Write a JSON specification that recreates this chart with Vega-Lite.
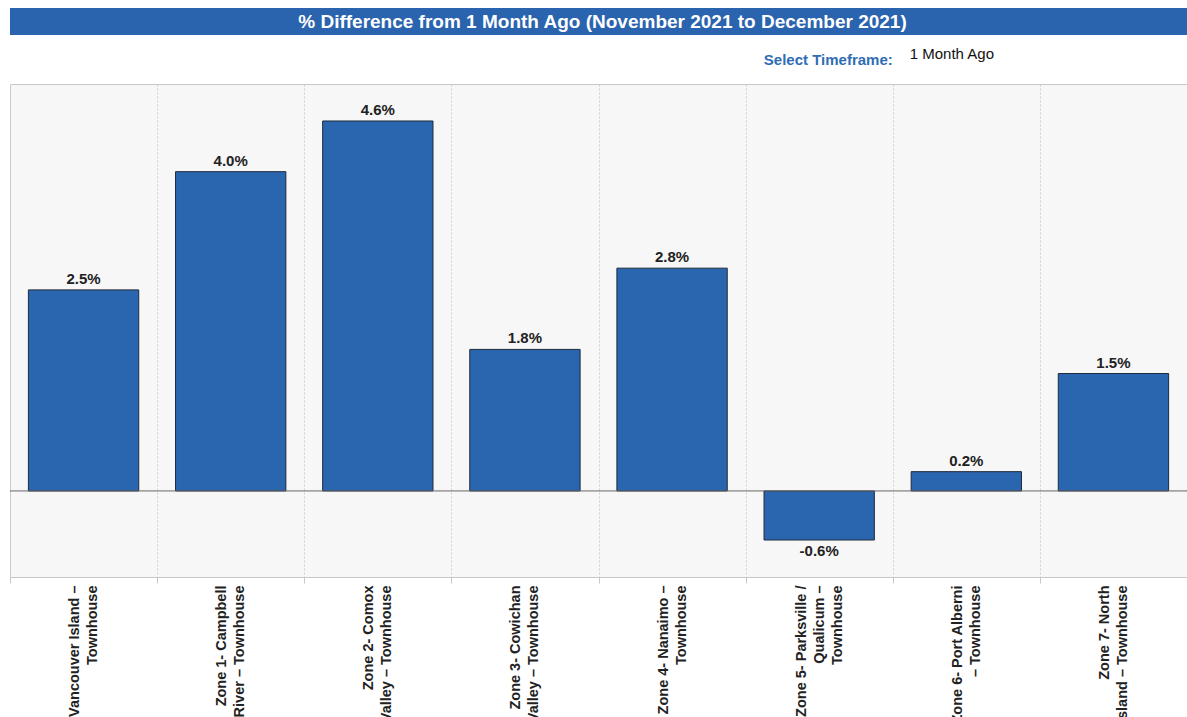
{
  "$schema": "https://vega.github.io/schema/vega-lite/v6.json",
  "width": 1177,
  "height": 493,
  "autosize": {"type": "none"},
  "padding": {"left": 10, "top": 84, "right": 0, "bottom": 140},
  "background": "white",
  "config": {
    "view": {"fill": "#f7f7f7", "stroke": "#c8c8c8"},
    "font": "Liberation Sans",
    "locale": {
      "number": {"decimal": ".", "thousands": ",", "grouping": [3], "currency": ["$", ""], "minus": "-"}
    }
  },
  "data": {
    "values": [
      {"zone": "Vancouver Island –\nTownhouse", "pct": 0.025},
      {"zone": "Zone 1- Campbell\nRiver – Townhouse", "pct": 0.0397},
      {"zone": "Zone 2- Comox\nValley – Townhouse", "pct": 0.046},
      {"zone": "Zone 3- Cowichan\nValley – Townhouse", "pct": 0.0176},
      {"zone": "Zone 4- Nanaimo –\nTownhouse", "pct": 0.0277},
      {"zone": "Zone 5- Parksville /\nQualicum –\nTownhouse", "pct": -0.0061},
      {"zone": "Zone 6- Port Alberni\n– Townhouse", "pct": 0.0024},
      {"zone": "Zone 7- North\nIsland – Townhouse", "pct": 0.0146}
    ]
  },
  "layer": [
    {
      "mark": {"type": "bar", "color": "#2a65b0", "stroke": "#1f2b3a", "strokeWidth": 1, "width": {"band": 0.75}},
      "encoding": {
        "x": {
          "field": "zone", "type": "nominal", "sort": null,
          "scale": {"paddingInner": 0, "paddingOuter": 0},
          "axis": {
            "title": null, "labelAngle": -90, "labelAlign": "right", "labelBaseline": "middle",
            "labelFont": "Liberation Sans", "labelFontWeight": "bold", "labelFontSize": 14.5,
            "labelColor": "#222222", "labelLineHeight": 18, "labelPadding": 2,
            "labelExpr": "split(datum.label, '\\n')", "labelLimit": 0, "labelOverlap": false,
            "labelOffset": {"expr": "-(length(split(datum.value, '\\n')) - 1) * 9"},
            "tickBand": "extent", "tickSize": 6, "tickColor": "#c8c8c8", "domainColor": "#c8c8c8",
            "grid": true, "gridColor": "#cfcfcf", "gridDash": [2, 2]
          }
        },
        "y": {
          "field": "pct", "type": "quantitative",
          "scale": {"domain": [-0.0107, 0.0506], "nice": false, "zero": false},
          "axis": null
        },
        "y2": {"datum": 0}
      }
    },
    {
      "transform": [{"filter": "datum.pct >= 0"}],
      "mark": {"type": "text", "baseline": "bottom", "dy": -3, "fontSize": 15, "fontWeight": "bold", "color": "#222222"},
      "encoding": {
        "x": {"field": "zone", "type": "nominal", "sort": null},
        "y": {"field": "pct", "type": "quantitative"},
        "text": {"field": "pct", "type": "quantitative", "format": ".1%"}
      }
    },
    {
      "transform": [{"filter": "datum.pct < 0"}],
      "mark": {"type": "text", "baseline": "top", "dy": 4, "fontSize": 15, "fontWeight": "bold", "color": "#222222"},
      "encoding": {
        "x": {"field": "zone", "type": "nominal", "sort": null},
        "y": {"field": "pct", "type": "quantitative"},
        "text": {"field": "pct", "type": "quantitative", "format": ".1%"}
      }
    },
    {
      "data": {"values": [{}]},
      "mark": {"type": "rule", "color": "#666666", "strokeWidth": 1},
      "encoding": {"y": {"datum": 0, "type": "quantitative"}}
    },
    {
      "data": {"values": [{}]},
      "mark": {"type": "rect", "color": "#2a63ae"},
      "encoding": {
        "y": {"datum": 0.06005, "type": "quantitative"},
        "y2": {"datum": 0.05669}
      }
    },
    {
      "data": {"values": [{}]},
      "mark": {"type": "text", "baseline": "middle", "align": "center", "dx": 4, "fontSize": 19, "fontWeight": "bold", "color": "white"},
      "encoding": {
        "y": {"datum": 0.05837, "type": "quantitative"},
        "text": {"value": "% Difference from 1 Month Ago (November 2021 to December 2021)"}
      }
    },
    {
      "data": {"values": [{}]},
      "mark": {"type": "text", "baseline": "middle", "align": "right", "dx": 0, "fontSize": 15, "fontWeight": "bold", "color": "#2f6db5"},
      "encoding": {
        "x": {"datum": "Zone 5- Parksville /\nQualicum –\nTownhouse", "type": "nominal", "bandPosition": 1},
        "y": {"datum": 0.0536, "type": "quantitative"},
        "text": {"value": "Select Timeframe:"}
      }
    },
    {
      "data": {"values": [{}]},
      "mark": {"type": "text", "baseline": "middle", "align": "left", "dx": 17, "fontSize": 15, "color": "#111111"},
      "encoding": {
        "x": {"datum": "Zone 6- Port Alberni\n– Townhouse", "type": "nominal", "bandPosition": 0},
        "y": {"datum": 0.05435, "type": "quantitative"},
        "text": {"value": "1 Month Ago"}
      }
    }
  ]
}
